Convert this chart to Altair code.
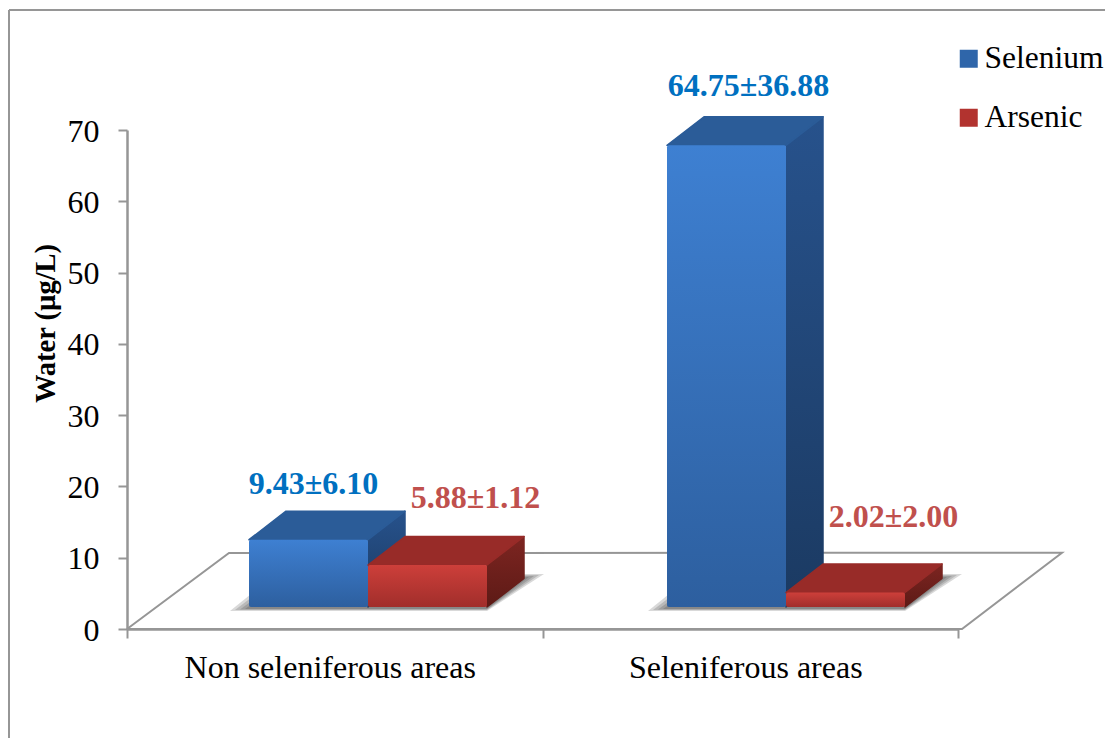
import altair as alt
import pandas as pd

# Chart values
groups = ["Non seleniferous areas", "Seleniferous areas"]
selenium = [9.43, 64.75]
arsenic = [5.88, 2.02]
selenium_labels = ["9.43±6.10", "64.75±36.88"]
arsenic_labels = ["5.88±1.12", "2.02±2.00"]

FONT = "Liberation Serif"
AXIS_GREY = "#969696"

# Plot geometry, in data units of the two position scales
PX_X = 831 / 2
PX_Y = 499 / 70
BAR_W = 119 / PX_X
DEPTH_X = 37 / PX_X
DEPTH_Y = 28.5 / PX_Y
BASE = 3.1
GROUP_START = [122 / PX_X, 540 / PX_X]


def grad(*stops):
    return alt.LinearGradient(
        gradient="linear",
        stops=[alt.GradientStop(color=c, offset=o) for o, c in stops],
        x1=0, x2=0, y1=0, y2=1,
    )


x_scale = alt.Scale(domain=[0, 2], nice=False)
y_scale = alt.Scale(domain=[0, 70], nice=False)

# The same axis definitions go on every layer so that they merge into one pair
x_axis = alt.Axis(
    title=None,
    values=[0, 0.5, 1, 1.5, 2],
    labelExpr="datum.value == 0.5 ? '%s' : datum.value == 1.5 ? '%s' : ''" % tuple(groups),
    tickOpacity={"condition": {"test": "datum.value == 0.5 || datum.value == 1.5", "value": 0}, "value": 1},
    grid=False, tickSize=9, tickWidth=2, tickColor=AXIS_GREY,
    domainColor=AXIS_GREY, domainWidth=2.5,
    labelFont=FONT, labelFontSize=32, labelColor="black",
    labelPadding=14, labelOffset=-5, labelOverlap=False, labelFlush=False, labelBound=False,
    labelLimit=0,
)
y_axis = alt.Axis(
    values=list(range(0, 80, 10)), grid=False, tickSize=9, tickWidth=2,
    tickColor=AXIS_GREY, domainColor=AXIS_GREY, domainWidth=2.5,
    labelFont=FONT, labelFontSize=32, labelColor="black", labelPadding=19,
    labelOffset=1,
    title="Water (µg/L)", titleFont=FONT, titleFontSize=28.5, titleFontWeight="bold",
    titleColor="black", titleX=-82, titleY=193, titleAngle=-90,
    titleAlign="center", titleBaseline="middle",
)
X = lambda: alt.X("x:Q", scale=x_scale, axis=x_axis)
Y = lambda: alt.Y("y:Q", scale=y_scale, axis=y_axis)


def bar_3d(start, value, front, top, side):
    """Front, top and side faces of one box standing on the floor."""
    left, right, low, high = start, start + BAR_W, BASE, BASE + value
    front_df = pd.DataFrame({"x": [left], "x2": [right], "y": [low], "y2": [high]})
    top_df = pd.DataFrame({
        "y": [high, high + DEPTH_Y],
        "x": [left, left + DEPTH_X],
        "x2": [right, right + DEPTH_X],
    })
    side_df = pd.DataFrame({
        "x": [right, right + DEPTH_X],
        "y": [low, low + DEPTH_Y],
        "y2": [high, high + DEPTH_Y],
    })
    return [
        alt.Chart(side_df).mark_area(
            color=side, orient="vertical", stroke=side, strokeWidth=1.5, strokeJoin="round"
        ).encode(x=X(), y=Y(), y2="y2:Q"),
        alt.Chart(top_df).mark_area(
            color=top, orient="horizontal", stroke=top, strokeWidth=1.5, strokeJoin="round"
        ).encode(y=Y(), x=X(), x2="x2:Q"),
        alt.Chart(front_df).mark_bar(color=front, cornerRadius=2).encode(
            x=X(), x2="x2:Q", y=Y(), y2="y2:Q"),
    ]


def shadow(left, right):
    """Soft floor shadow built from nested translucent parallelograms."""
    layers = []
    for grow, drop, rise in [(19, 4, 33), (14, 3, 32), (9, 2.5, 31), (4, 2, 30)]:
        e = grow / PX_X
        df = pd.DataFrame({
            "y": [BASE - drop / PX_Y, BASE + rise / PX_Y],
            "x": [left - e, left - e + 46 / PX_X],
            "x2": [right, right + e + 38 / PX_X],
        })
        layers.append(
            alt.Chart(df).mark_area(color="#202020", opacity=0.17, orient="horizontal").encode(
                y=Y(), x=X(), x2="x2:Q")
        )
    return layers


blue_front = grad((0, "#3e80d2"), (1, "#2d5f9f"))
blue_top = "#2b5c98"
blue_side = grad((0, "#27528c"), (1, "#1b3a62"))
red_front = grad((0, "#cd3f3a"), (1, "#a12e2b"))
red_top = "#982b28"
red_side = grad((0, "#7d2521"), (1, "#5d1a16"))

floor_df = pd.DataFrame({
    "x": [0, 102 / PX_X, 935 / PX_X, 835 / PX_X, 0],
    "y": [0, 10.66, 10.7, 0, 0],
    "o": range(5),
})
floor = alt.Chart(floor_df).mark_line(color=AXIS_GREY, strokeWidth=2).encode(
    x=X(), y=Y(), order="o:O",
)

layers = [floor]
for i in range(2):
    layers += shadow(GROUP_START[i], GROUP_START[i] + 2 * BAR_W)
for i in range(2):
    layers += bar_3d(GROUP_START[i], selenium[i], blue_front, blue_top, blue_side)
    layers += bar_3d(GROUP_START[i] + BAR_W, arsenic[i], red_front, red_top, red_side)

# Value labels, each placed relative to the front face of its bar
label_df = pd.DataFrame({
    "label": selenium_labels + arsenic_labels,
    "series": ["Selenium", "Selenium", "Arsenic", "Arsenic"],
    "x": [GROUP_START[0] + BAR_W / 2 + 5 / PX_X, GROUP_START[1] + BAR_W / 2 + 22 / PX_X,
          GROUP_START[0] + 1.5 * BAR_W + 48 / PX_X, GROUP_START[1] + 1.5 * BAR_W + 48 / PX_X],
    "y": [BASE + selenium[0] + DEPTH_Y + 27 / PX_Y, BASE + selenium[1] + DEPTH_Y + 31 / PX_Y,
          BASE + arsenic[0] + DEPTH_Y + 38 / PX_Y, BASE + arsenic[1] + DEPTH_Y + 47 / PX_Y],
})
value_text = alt.Chart(label_df).mark_text(
    font=FONT, fontSize=32, fontWeight="bold", align="center", baseline="middle"
).encode(
    x=X(), y=Y(), text="label:N",
    color=alt.Color("series:N",
                    scale=alt.Scale(domain=["Selenium", "Arsenic"], range=["#0070c0", "#c0504d"]),
                    legend=None),
)
layers.append(value_text)

# Legend keyed by a separate, undrawn colour field
legend_df = pd.DataFrame({"name": ["Selenium", "Arsenic"], "x": [0.5, 0.5], "y": [5, 5]})
legend_layer = alt.Chart(legend_df).mark_square(size=0, opacity=0).encode(
    x=X(), y=Y(),
    fill=alt.Fill("name:N",
                  scale=alt.Scale(domain=["Selenium", "Arsenic"], range=["#2f66aa", "#b2332f"]),
                  legend=alt.Legend(
                      title=None, orient="none", legendX=826, legendY=-87,
                      symbolType="square", symbolSize=324, symbolOpacity=1,
                      symbolStrokeWidth=0, labelFont=FONT, labelFontSize=31.5,
                      labelColor="black", labelOffset=0, rowPadding=26,
                      labelLimit=200,
                  )),
)
layers.append(legend_layer)

# Outer frame: left and top edges
frame_left = alt.Chart(pd.DataFrame({"a": [0]})).mark_rule(color=AXIS_GREY, strokeWidth=2).encode(
    x=alt.value(-118), y=alt.value(-120), y2=alt.value(620))
frame_top = alt.Chart(pd.DataFrame({"a": [0]})).mark_rule(color=AXIS_GREY, strokeWidth=2).encode(
    y=alt.value(-120), x=alt.value(-118), x2=alt.value(990))
layers += [frame_left, frame_top]

chart = alt.layer(*layers).resolve_scale(color="independent", fill="independent").properties(
    width=831, height=499,
    padding={"left": 127, "top": 130, "right": 147, "bottom": 109},
    autosize=alt.AutoSizeParams(type="none"),
    background="white",
).configure_view(stroke=None)

chart.save("out.html", embed_options={"renderer": "svg", "actions": False})
